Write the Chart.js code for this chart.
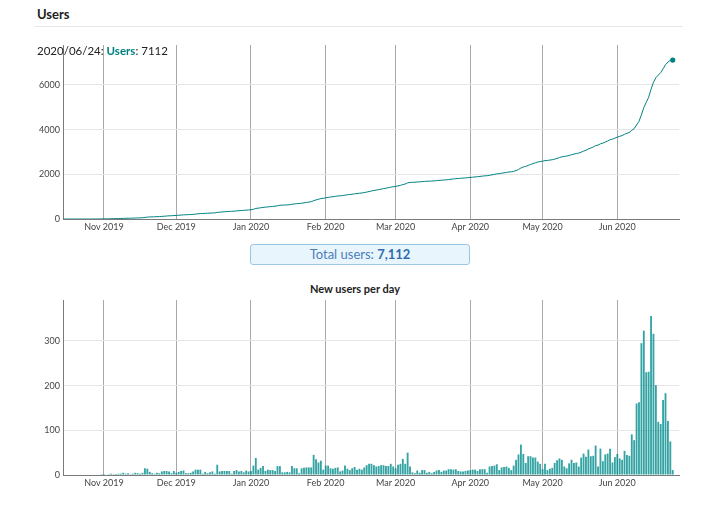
<!DOCTYPE html>
<html>
<head>
<meta charset="utf-8">
<script src="https://cdn.jsdelivr.net/npm/chart.js@4.4.0/dist/chart.umd.min.js"></script>
<style>
html,body{margin:0;padding:0;background:#fff;}
body{width:720px;height:505px;position:relative;overflow:hidden;font-family:Lato,"Noto Sans",sans-serif;color:#222;}
#heading{position:absolute;left:37px;top:6px;font-size:13px;font-weight:bold;color:#222;}
#rule{position:absolute;left:35px;top:26px;width:648px;height:1px;background:#e6e6e6;}
#legend{position:absolute;left:37px;top:44px;font-size:11.5px;color:#222;z-index:5;white-space:nowrap;}
#legend b{color:#008080;}
#topWrap{position:absolute;left:0;top:40px;width:720px;height:200px;}
#totalBox{position:absolute;left:250px;top:244px;width:218px;height:19px;line-height:19px;border:1px solid #9cc6e4;background:#e9f5fd;border-radius:3px;text-align:center;font-size:13px;color:#4a80bb;}
#totalBox b{color:#2e6db0;}
#subTitle{position:absolute;left:255px;top:282px;width:200px;text-align:center;font-size:11px;font-weight:bold;color:#222;}
#botWrap{position:absolute;left:0;top:280px;width:720px;height:220px;}
</style>
</head>
<body>
<div id="heading">Users</div>
<div id="rule"></div>
<div id="legend">2020/06/24: <b>Users</b>: 7112</div>
<div id="topWrap"><canvas id="topChart" width="720" height="200"></canvas></div>
<div id="totalBox">Total users: <b>7,112</b></div>
<div id="subTitle">New users per day</div>
<div id="botWrap"><canvas id="botChart" width="720" height="220"></canvas></div>
<script>
// New users per day, one array per month (first day of data: 2019-10-15)
const newUsersOct2019 = [0,0,0,0,0,0,0,0,0,0,0,0,0,1,0,1,2];
const newUsersNov2019 = [2,1,2,3,2,2,3,3,5,3,4,2,3,5,4,3,5,15,14,7,4,3,5,4,8,9,9,8,4,9];
const newUsersDec2019 = [5,7,9,10,4,4,5,8,12,12,12,3,7,4,6,8,3,23,8,9,9,9,9,3,9,11,8,9,6,10,8];
const newUsersJan2020 = [9,21,38,12,16,20,9,12,11,11,9,20,20,6,6,7,6,20,15,15,4,15,16,17,17,17,45,35,28,32,12];
const newUsersFeb2020 = [21,21,15,14,16,17,8,10,21,14,11,15,18,12,14,12,17,22,25,25,22,19,20,22,22,20,20,25,19];
const newUsersMar2020 = [15,23,25,36,25,50,19,6,4,10,5,11,11,5,7,4,7,10,11,7,10,10,13,13,12,13,9,8,8,9,10];
const newUsersApr2020 = [11,12,12,9,13,13,13,5,19,20,21,24,11,17,18,19,16,11,21,34,46,68,47,27,42,42,39,39,30,25];
const newUsersMay2020 = [13,25,11,14,16,27,33,37,34,19,15,26,34,27,28,19,39,48,41,57,42,43,66,19,59,31,46,48,59,28,40];
const newUsersJun2020 = [47,37,34,54,45,43,91,78,160,163,295,323,230,231,356,316,201,119,114,168,183,121,75,11];

const monthTickLabels = ['Nov 2019','Dec 2019','Jan 2020','Feb 2020','Mar 2020','Apr 2020','May 2020','Jun 2020'];
const yTicksUsers = [0,2000,4000,6000];
const yTicksNew = [0,100,200,300];

const monthSeries = [newUsersOct2019,newUsersNov2019,newUsersDec2019,newUsersJan2020,newUsersFeb2020,newUsersMar2020,newUsersApr2020,newUsersMay2020,newUsersJun2020];

// build day-indexed tables
const daily = [];
const monthStartDays = [];
monthSeries.forEach((arr, i) => {
  if (i > 0) monthStartDays.push(daily.length);
  arr.forEach(v => daily.push(v));
});
const dailyPoints = daily.map((v, d) => ({x: d, y: v}));
let run = 0;
const cumPoints = daily.map((v, d) => { run += v; return {x: d, y: run}; });
const lastIdx = cumPoints.length - 1;

const X_MIN = 0, X_MAX = 255.6;
const FONT = {family: 'Lato, "Noto Sans", sans-serif', size: 9};

function fixV(width) {
  return function(scale) { scale.width = width; scale.paddingTop = 0; scale.paddingBottom = 0; scale.paddingLeft = 0; scale.paddingRight = 0; };
}
function fixH(height) {
  return function(scale) { scale.height = height; scale.paddingTop = 0; scale.paddingBottom = 0; scale.paddingLeft = 0; scale.paddingRight = 0; };
}
function xScale(h) {
  return {
    type: 'linear', min: X_MIN, max: X_MAX, offset: false,
    afterBuildTicks: s => { s.ticks = monthStartDays.map(v => ({value: v})); },
    afterFit: fixH(h),
    ticks: {
      autoSkip: false, maxRotation: 0, minRotation: 0, padding: 3, color: '#444', font: FONT,
      callback: (val, idx) => monthTickLabels[idx]
    },
    grid: {color: '#a8a8a8', lineWidth: 1, drawTicks: false, offset: false},
    border: {display: true, color: '#7a7a7a', width: 1}
  };
}
function yScale(maxVal, tickVals) {
  return {
    type: 'linear', min: 0, max: maxVal,
    afterBuildTicks: s => { s.ticks = tickVals.map(v => ({value: v})); },
    afterFit: fixV(63),
    ticks: {padding: 3, color: '#444', font: FONT, callback: v => String(v)},
    grid: {color: '#e6e6e6', lineWidth: 1, drawTicks: false},
    border: {display: true, color: '#7a7a7a', width: 1}
  };
}
const common = {
  responsive: false, animation: false, events: [],
  plugins: {legend: {display: false}, tooltip: {enabled: false}, title: {display: false}}
};

const maxCum = Math.max(...cumPoints.map(p => p.y));
new Chart(document.getElementById('topChart'), {
  type: 'line',
  data: {datasets: [{
    data: cumPoints,
    borderColor: '#008080', borderWidth: 1, tension: 0, fill: false,
    pointRadius: cumPoints.map((p, i) => i === lastIdx ? 2.6 : 0),
    pointBackgroundColor: '#008080', pointBorderColor: '#008080', pointBorderWidth: 0
  }]},
  options: Object.assign({}, common, {
    layout: {padding: {top: 5, right: 41, left: 0, bottom: 0}},
    scales: {x: xScale(21), y: yScale(maxCum * 1.095, yTicksUsers)}
  })
});

const maxNew = Math.max(...daily);
new Chart(document.getElementById('botChart'), {
  type: 'bar',
  data: {datasets: [{
    data: dailyPoints,
    backgroundColor: 'rgba(0,140,140,0.8)', borderColor: '#008080', borderWidth: 0,
    barPercentage: 0.85, categoryPercentage: 0.9
  }]},
  options: Object.assign({}, common, {
    layout: {padding: {top: 20, right: 41, left: 0, bottom: 0}},
    scales: {x: xScale(25), y: yScale(maxNew * 1.1, yTicksNew)}
  })
});
</script>
</body>
</html>
